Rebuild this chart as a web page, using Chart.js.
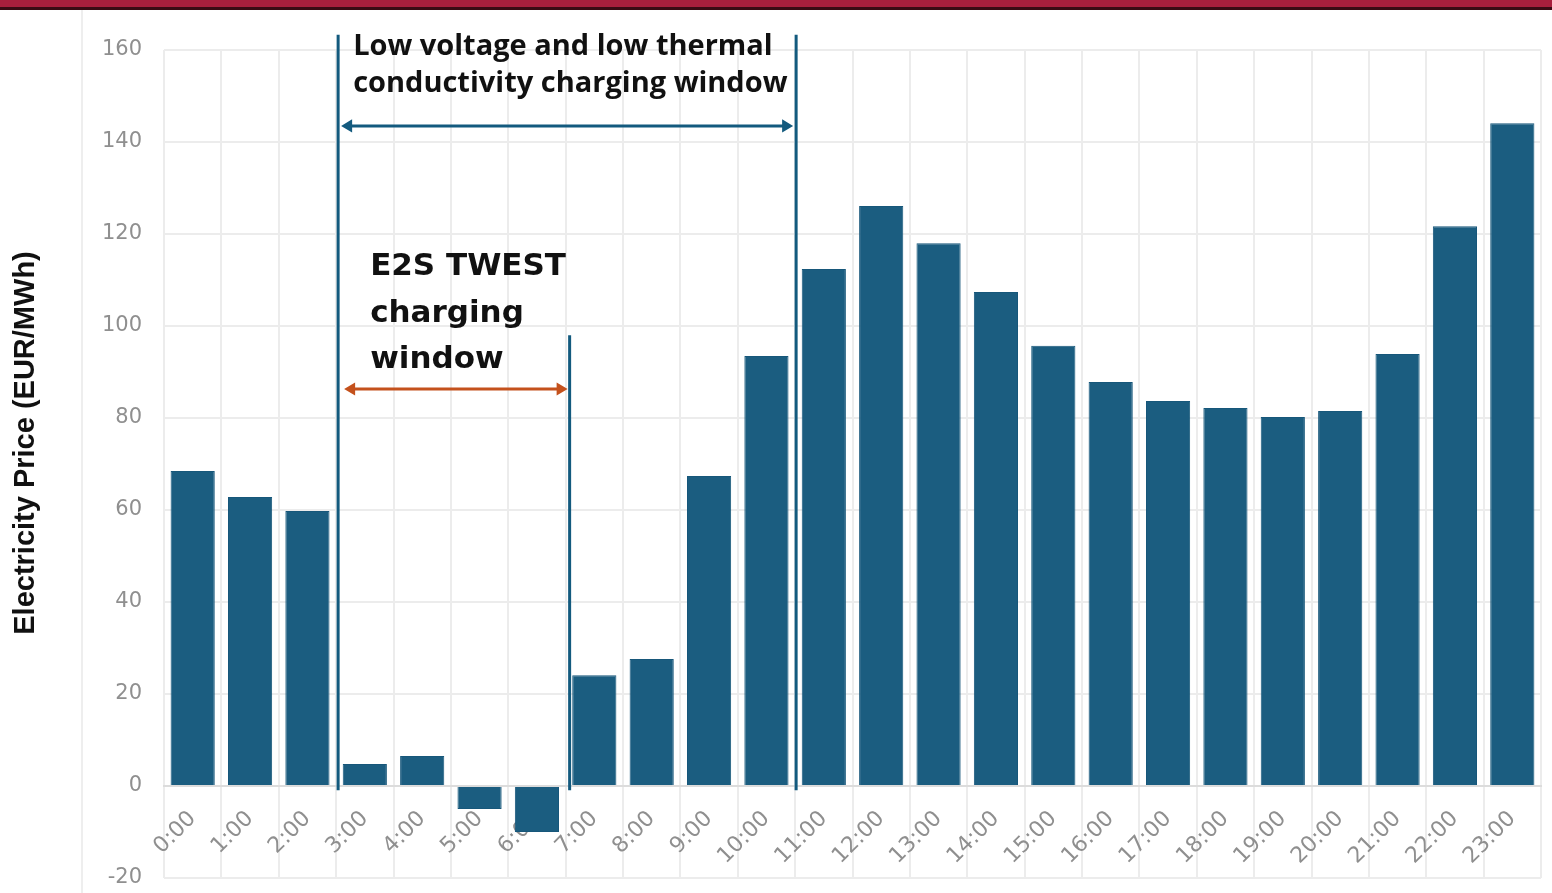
<!DOCTYPE html>
<html>
<head>
<meta charset="utf-8">
<script src="https://cdn.jsdelivr.net/npm/chart.js@4.4.1/dist/chart.umd.min.js"></script>
<style>
  html, body { margin: 0; padding: 0; background: #fff; }
  .topbar { height: 7px; background: #a81f3d; border-bottom: 3px solid #3a0b14; }
  .frame { position: relative; width: 1552px; height: 883px; }
  .frame::before { content: ''; position: absolute; left: 81px; top: 0; bottom: 0; width: 2px; background: #eeeeee; }
  #chart { position: absolute; left: 0; top: 0; }
</style>
</head>
<body>
<div class="topbar"></div>
<div class="frame"><canvas id="chart" width="1552" height="883"></canvas></div>
<script>
const hours = ['0:00', '1:00', '2:00', '3:00', '4:00', '5:00', '6:00', '7:00', '8:00', '9:00', '10:00', '11:00',
  '12:00', '13:00', '14:00', '15:00', '16:00', '17:00', '18:00', '19:00', '20:00', '21:00', '22:00', '23:00'];
const prices = [68.5, 62.8, 59.8, 4.8, 6.5, -5.0, -10.0, 24.1, 27.6, 67.4, 93.5, 112.4,
  126.1, 118.0, 107.4, 95.7, 87.8, 83.7, 82.2, 80.2, 81.5, 93.9, 121.7, 144.1];
const yTicks = { min: -20, max: 160, step: 20 };
const axisTitle = 'Electricity Price (EUR/MWh)';
const wideWindowText = ['Low voltage and low thermal', 'conductivity charging window'];
const twestWindowText = ['E2S TWEST', 'charging', 'window'];

const blue = '#1b5d80';
const lineBlue = '#135a7e';
const orange = '#c4511c';
const tickGrey = '#8f8f8f';

function arrowHead(ctx, x, y, dir, size) {
  ctx.beginPath();
  ctx.moveTo(x, y);
  ctx.lineTo(x + dir * size, y - size * 0.6);
  ctx.lineTo(x + dir * size, y + size * 0.6);
  ctx.closePath();
  ctx.fill();
}

function doubleArrow(ctx, x1, x2, y, color) {
  ctx.save();
  ctx.strokeStyle = color;
  ctx.fillStyle = color;
  ctx.lineWidth = 3;
  ctx.beginPath();
  ctx.moveTo(x1 + 4, y);
  ctx.lineTo(x2 - 4, y);
  ctx.stroke();
  arrowHead(ctx, x1, y, 1, 11);
  arrowHead(ctx, x2, y, -1, 11);
  ctx.restore();
}

const windowsPlugin = {
  id: 'windows',
  afterDatasetsDraw(chart) {
    const { ctx, scales: { x, y } } = chart;
    const start = x.getPixelForValue(2.5) + 2;
    const mid = x.getPixelForValue(6.5) + 4;
    const end = x.getPixelForValue(10.5) + 1;
    const bottom = y.getPixelForValue(-0.9);

    ctx.save();
    ctx.strokeStyle = lineBlue;
    ctx.lineWidth = 3;
    [[start, y.getPixelForValue(163.3)], [end, y.getPixelForValue(163.3)], [mid, y.getPixelForValue(98)]].forEach(([px, top]) => {
      ctx.beginPath();
      ctx.moveTo(px, top);
      ctx.lineTo(px, bottom);
      ctx.stroke();
    });
    ctx.restore();

    doubleArrow(ctx, start + 3, end - 3, y.getPixelForValue(143.5), lineBlue);
    doubleArrow(ctx, start + 6, mid - 2, y.getPixelForValue(86.3), orange);

    ctx.save();
    ctx.fillStyle = '#111';
    ctx.textBaseline = 'alphabetic';
    ctx.textAlign = 'left';
    ctx.font = 'bold 29px "Open Sans"';
    [158.9, 150.9].forEach((v, i) => ctx.fillText(wideWindowText[i], start + 15, y.getPixelForValue(v)));
    ctx.font = 'bold 31px "DejaVu Sans"';
    [111.1, 100.9, 90.9].forEach((v, i) => ctx.fillText(twestWindowText[i], start + 32, y.getPixelForValue(v)));
    ctx.restore();

    ctx.save();
    ctx.translate(26, 433);
    ctx.rotate(-Math.PI / 2);
    ctx.fillStyle = '#111';
    ctx.font = 'bold 29px "Liberation Sans"';
    ctx.textAlign = 'center';
    ctx.textBaseline = 'middle';
    ctx.fillText(axisTitle, 0, 0);
    ctx.restore();
  }
};

const hourTicks = {
  color: tickGrey,
  font: { family: '"DejaVu Sans"', size: 22 },
  minRotation: 45,
  maxRotation: 45,
  padding: 20,
  autoSkip: false
};

new Chart(document.getElementById('chart'), {
  type: 'bar',
  data: {
    labels: hours,
    datasets: [{
      data: prices,
      backgroundColor: blue,
      borderColor: '#17577a',
      borderWidth: 1,
      barPercentage: 0.77,
      categoryPercentage: 1
    }]
  },
  options: {
    responsive: false,
    animation: false,
    events: [],
    layout: { padding: { top: 40, right: 11, bottom: 15, left: 0 } },
    plugins: { legend: { display: false }, tooltip: { enabled: false } },
    scales: {
      x: {
        position: { y: 0 },
        afterFit(scale) { scale.height = 0; },
        grid: { color: '#ececec', lineWidth: 2, drawTicks: false, offset: true },
        border: { color: '#dcdcdc', width: 2 },
        ticks: { display: false }
      },
      hourLabels: {
        type: 'category',
        axis: 'x',
        offset: true,
        z: 1,
        position: { y: 0 },
        afterFit(scale) { scale.height = 0; scale.paddingLeft = 0; scale.paddingRight = 0; },
        grid: { display: false, drawTicks: false },
        border: { display: false },
        ticks: hourTicks
      },
      y: {
        min: yTicks.min,
        max: yTicks.max,
        afterFit(scale) {
          scale.width = 164;
          scale.paddingTop = 0;
          scale.paddingBottom = 0;
        },
        grid: { color: '#ececec', lineWidth: 2, drawTicks: false },
        border: { display: false },
        ticks: {
          stepSize: yTicks.step,
          color: tickGrey,
          font: { family: '"DejaVu Sans"', size: 21 },
          padding: 22
        }
      }
    }
  },
  plugins: [windowsPlugin]
});
</script>
</body>
</html>
